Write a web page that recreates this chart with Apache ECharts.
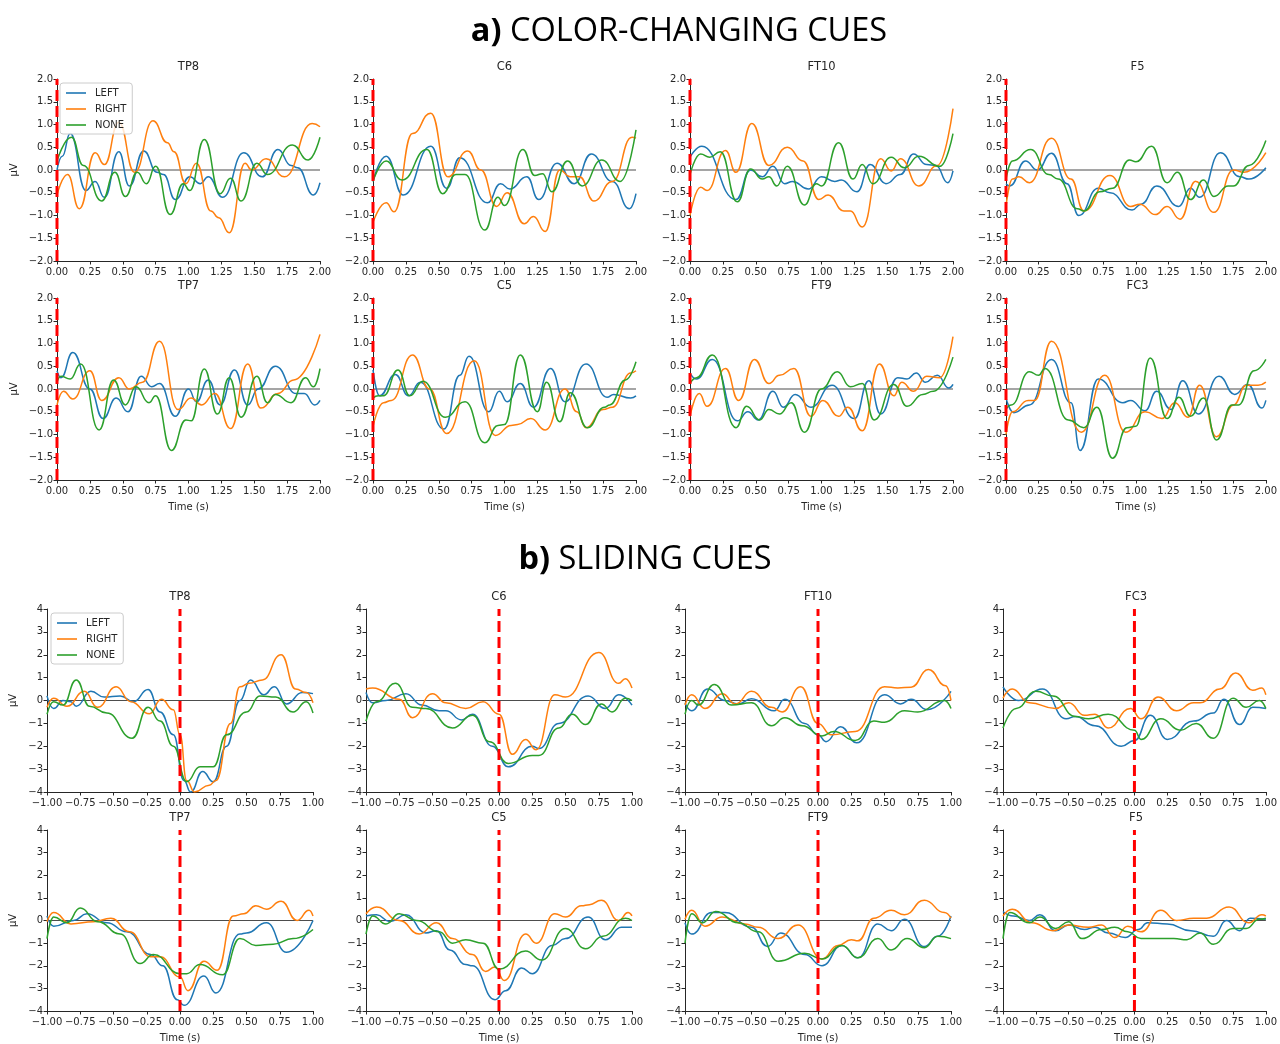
<!DOCTYPE html>
<html><head><meta charset="utf-8">
<script src="https://cdn.jsdelivr.net/npm/echarts@6/dist/echarts.min.js"></script>
<style>html,body{margin:0;padding:0;background:#fff}#c{width:1280px;height:1044px}</style>
</head><body><div id="c"></div>
<script>
// ---------- names ----------
const seriesNames = ['LEFT', 'RIGHT', 'NONE'];
const seriesColors = ['#1f77b4', '#ff7f0e', '#2ca02c'];
const channelsA = ['TP8', 'C6', 'FT10', 'F5', 'TP7', 'C5', 'FT9', 'FC3'];
const channelsB = ['TP8', 'C6', 'FT10', 'FC3', 'TP7', 'C5', 'FT9', 'F5'];
const sectionTitles = ['a)', 'COLOR-CHANGING CUES', 'b)', 'SLIDING CUES'];
const xRangeA = [0, 2, 0.25], yRangeA = [-2, 2, 0.5];
const xRangeB = [-1, 1, 0.25], yRangeB = [-4, 4, 1];

// ---------- a) colour-changing cues: [time s, µV] ----------
const aTP8_LEFT = [[0,0.0],[0.04,0.3],[0.10,0.8],[0.22,-0.45],[0.29,-0.25],[0.36,-0.6],[0.47,0.4],[0.55,-0.35],[0.66,0.42],[0.76,-0.05],[0.81,-0.1],[0.90,-0.65],[1.01,-0.15],[1.09,-0.3],[1.15,-0.15],[1.26,-0.6],[1.42,0.38],[1.56,-0.15],[1.68,0.45],[1.78,0.1],[1.83,0.05],[1.95,-0.55],[2.0,-0.28]];
const aTP8_RIGHT = [[0,-0.55],[0.08,-0.1],[0.17,-0.85],[0.29,0.38],[0.36,0.12],[0.47,1.05],[0.59,-0.05],[0.73,1.08],[0.84,0.6],[0.89,0.4],[0.98,-0.3],[1.06,0.15],[1.17,-0.9],[1.23,-1.05],[1.31,-1.38],[1.43,0.15],[1.48,0.0],[1.59,0.25],[1.73,-0.15],[1.94,1.02],[2.0,0.95]];
const aTP8_NONE = [[0,0.2],[0.11,0.72],[0.2,0.1],[0.34,-0.68],[0.44,-0.05],[0.52,-0.58],[0.61,-0.05],[0.68,-0.3],[0.75,0.08],[0.86,-0.98],[0.96,-0.3],[1.01,-0.45],[1.12,0.67],[1.24,-0.52],[1.32,-0.18],[1.40,-0.68],[1.52,0.15],[1.60,-0.1],[1.79,0.55],[1.91,0.22],[2.0,0.72]];

const aC6_LEFT = [[0,-0.25],[0.10,0.3],[0.23,-0.55],[0.44,0.52],[0.56,-0.4],[0.66,0.27],[0.87,-0.72],[0.97,-0.3],[1.04,-0.42],[1.17,-0.15],[1.26,-0.65],[1.40,0.15],[1.53,-0.3],[1.66,0.35],[1.82,-0.25],[1.95,-0.85],[2.0,-0.52]];
const aC6_RIGHT = [[0,-1.15],[0.10,-0.72],[0.16,-0.92],[0.30,0.8],[0.44,1.25],[0.57,-0.15],[0.72,0.42],[0.82,0.0],[0.94,-0.8],[1.02,-0.5],[1.15,-1.18],[1.22,-1.02],[1.31,-1.35],[1.42,0.0],[1.50,-0.15],[1.57,-0.15],[1.68,-0.68],[1.82,-0.25],[1.97,0.72],[2.0,0.7]];
const aC6_NONE = [[0,-0.25],[0.1,0.2],[0.22,-0.22],[0.41,0.45],[0.53,-0.52],[0.63,-0.1],[0.7,-0.1],[0.85,-1.32],[0.95,-0.6],[1.0,-0.78],[1.14,0.45],[1.23,-0.12],[1.29,-0.08],[1.36,-0.48],[1.48,0.2],[1.59,-0.35],[1.74,0.22],[1.88,-0.25],[2.0,0.88]];

const aFT10_LEFT = [[0,0.28],[0.09,0.52],[0.35,-0.65],[0.46,0.0],[0.55,-0.15],[0.63,0.08],[0.72,-0.3],[0.78,-0.25],[0.9,-0.42],[1.0,-0.15],[1.1,-0.25],[1.15,-0.22],[1.27,-0.48],[1.37,0.12],[1.49,-0.3],[1.6,-0.1],[1.7,0.35],[1.8,0.12],[1.87,0.1],[1.96,-0.28],[2.0,-0.02]];
const aFT10_RIGHT = [[0,-1.0],[0.08,-0.38],[0.13,-0.45],[0.27,0.43],[0.35,-0.05],[0.47,1.02],[0.6,0.1],[0.74,0.5],[0.86,0.2],[0.98,-0.65],[1.05,-0.55],[1.17,-0.9],[1.22,-0.9],[1.31,-1.25],[1.45,0.25],[1.53,-0.02],[1.6,0.25],[1.74,-0.35],[1.88,0.1],[2.0,1.35]];
const aFT10_NONE = [[0,-0.1],[0.08,0.35],[0.15,0.28],[0.23,0.4],[0.36,-0.7],[0.46,0.02],[0.55,-0.2],[0.6,-0.15],[0.66,-0.35],[0.74,0.08],[0.87,-0.77],[0.96,-0.3],[1.0,-0.35],[1.13,0.6],[1.24,-0.2],[1.31,0.12],[1.39,-0.3],[1.53,0.28],[1.63,0.05],[1.74,0.3],[1.9,0.08],[2.0,0.8]];

const aF5_LEFT = [[0,-0.3],[0.03,-0.35],[0.15,0.2],[0.24,0.0],[0.35,0.37],[0.47,-0.3],[0.56,-1.0],[0.71,-0.4],[0.8,-0.5],[0.97,-0.88],[1.04,-0.75],[1.16,-0.35],[1.33,-0.8],[1.42,-0.4],[1.49,-0.6],[1.65,0.38],[1.8,-0.15],[1.87,-0.2],[2.0,0.05]];
const aF5_RIGHT = [[0,-0.8],[0.05,-0.2],[0.1,-0.15],[0.18,-0.28],[0.35,0.7],[0.5,-0.2],[0.6,-0.9],[0.8,-0.12],[0.96,-0.8],[1.03,-0.75],[1.15,-0.98],[1.24,-0.8],[1.34,-1.08],[1.46,-0.25],[1.6,-0.93],[1.75,0.0],[1.83,-0.05],[2.0,0.38]];
const aF5_NONE = [[0,-0.2],[0.05,0.2],[0.19,0.45],[0.33,-0.1],[0.4,-0.2],[0.55,-0.85],[0.6,-0.9],[0.72,-0.48],[0.82,-0.4],[0.95,0.22],[1.0,0.18],[1.12,0.52],[1.24,-0.28],[1.32,-0.05],[1.42,-0.65],[1.52,-0.22],[1.6,-0.58],[1.71,-0.35],[1.75,-0.35],[1.87,0.1],[2.0,0.65]];

const aTP7_LEFT = [[0,0.4],[0.03,0.25],[0.12,0.8],[0.25,0.0],[0.35,-0.65],[0.45,-0.2],[0.54,-0.5],[0.64,0.28],[0.72,0.05],[0.78,0.12],[0.9,-0.6],[1.0,0.0],[1.06,-0.28],[1.15,0.2],[1.24,-0.35],[1.35,0.42],[1.45,-0.35],[1.53,0.0],[1.66,0.5],[1.82,-0.1],[1.88,-0.1],[1.96,-0.35],[2.0,-0.25]];
const aTP7_RIGHT = [[0,-0.35],[0.05,-0.05],[0.12,-0.22],[0.25,0.4],[0.34,-0.25],[0.47,0.25],[0.55,0.0],[0.65,0.15],[0.78,1.05],[0.92,-0.45],[1.02,-0.2],[1.1,-0.35],[1.2,-0.1],[1.32,-0.87],[1.45,0.55],[1.55,-0.42],[1.68,-0.1],[1.8,0.2],[2.0,1.2]];
const aTP7_NONE = [[0,0.15],[0.03,0.28],[0.1,0.22],[0.18,0.55],[0.32,-0.9],[0.43,0.2],[0.52,-0.35],[0.6,0.05],[0.7,-0.3],[0.75,-0.15],[0.87,-1.35],[0.98,-0.68],[1.02,-0.7],[1.12,0.44],[1.22,-0.55],[1.31,0.25],[1.4,-0.62],[1.52,0.28],[1.6,-0.3],[1.66,-0.12],[1.78,-0.3],[1.89,0.25],[1.95,0.05],[2.0,0.45]];

const aC5_LEFT = [[0,0.42],[0.05,-0.15],[0.17,0.32],[0.27,-0.15],[0.36,0.15],[0.54,-0.88],[0.66,0.3],[0.73,0.72],[0.88,-0.5],[0.96,-0.05],[1.02,-0.28],[1.12,0.12],[1.22,-0.4],[1.35,0.45],[1.46,-0.28],[1.62,0.55],[1.78,-0.18],[1.83,-0.12],[1.96,-0.2],[2.0,-0.15]];
const aC5_RIGHT = [[0,-0.82],[0.08,-0.3],[0.14,-0.25],[0.3,0.75],[0.43,0.0],[0.56,-0.98],[0.77,0.62],[0.93,-1.02],[1.05,-0.8],[1.1,-0.78],[1.2,-0.65],[1.31,-0.9],[1.46,0.0],[1.55,-0.5],[1.62,-0.85],[1.75,-0.45],[1.82,-0.4],[1.96,0.35],[2.0,0.4]];
const aC5_NONE = [[0,-0.2],[0.04,-0.15],[0.08,-0.15],[0.19,0.42],[0.28,-0.15],[0.38,0.17],[0.55,-0.62],[0.7,-0.28],[0.85,-1.18],[0.95,-0.8],[1.0,-0.78],[1.12,0.75],[1.25,-0.5],[1.32,0.15],[1.42,-0.72],[1.5,-0.08],[1.63,-0.85],[1.76,-0.4],[1.8,-0.35],[1.92,0.2],[2.0,0.6]];

const aFT9_LEFT = [[0,0.35],[0.05,0.22],[0.17,0.65],[0.36,-0.7],[0.44,-0.5],[0.52,-0.68],[0.63,-0.05],[0.71,-0.4],[0.8,-0.12],[0.92,-0.4],[1.08,0.08],[1.25,-0.65],[1.36,0.18],[1.45,-0.55],[1.58,0.25],[1.65,0.22],[1.72,0.35],[1.79,0.15],[1.88,0.3],[1.97,0.02],[2.0,0.1]];
const aFT9_RIGHT = [[0,-0.6],[0.07,-0.1],[0.13,-0.38],[0.27,0.45],[0.37,-0.25],[0.49,0.65],[0.6,0.12],[0.68,0.3],[0.79,0.45],[0.92,-0.6],[1.01,-0.25],[1.13,-0.6],[1.2,-0.4],[1.31,-0.92],[1.44,0.55],[1.55,-0.15],[1.61,0.15],[1.7,-0.05],[1.8,0.28],[1.9,0.25],[2.0,1.15]];
const aFT9_NONE = [[0,0.12],[0.05,0.25],[0.17,0.75],[0.35,-0.85],[0.43,-0.38],[0.53,-0.68],[0.6,-0.45],[0.68,-0.55],[0.77,-0.3],[0.87,-0.95],[1.0,0.0],[1.12,0.38],[1.22,0.05],[1.31,0.12],[1.4,-0.68],[1.55,0.1],[1.65,-0.38],[1.77,-0.12],[1.85,-0.05],[2.0,0.7]];

const aFC3_LEFT = [[0,-0.2],[0.06,-0.52],[0.18,-0.35],[0.35,0.65],[0.5,-0.3],[0.57,-1.35],[0.71,0.22],[0.9,-0.3],[0.96,-0.25],[1.07,-0.48],[1.16,-0.05],[1.27,-0.45],[1.36,0.18],[1.48,-0.55],[1.64,0.28],[1.76,-0.12],[1.86,0.1],[1.97,-0.42],[2.0,-0.25]];
const aFC3_RIGHT = [[0,-1.0],[0.05,-0.5],[0.17,-0.25],[0.22,-0.25],[0.35,1.05],[0.58,-0.95],[0.76,0.3],[0.92,-0.95],[1.07,-0.5],[1.2,-0.65],[1.3,-0.3],[1.4,-0.62],[1.49,0.08],[1.62,-1.05],[1.75,-0.35],[1.85,0.08],[1.94,0.08],[2.0,0.15]];
const aFC3_NONE = [[0,-0.45],[0.04,-0.35],[0.18,0.38],[0.25,0.3],[0.3,0.45],[0.48,-0.68],[0.6,-0.85],[0.7,-0.4],[0.82,-1.52],[0.93,-0.85],[1.0,-0.82],[1.11,0.68],[1.24,-0.65],[1.33,-0.18],[1.42,-0.6],[1.52,-0.2],[1.62,-1.12],[1.74,-0.35],[1.79,-0.35],[1.91,0.4],[2.0,0.65]];

// ---------- b) sliding cues: [time s, µV] ----------
const bTP8_LEFT = [[-1,0.2],[-0.95,-0.35],[-0.88,0.0],[-0.82,-0.05],[-0.78,-0.25],[-0.67,0.4],[-0.57,0.15],[-0.45,0.2],[-0.35,-0.05],[-0.24,0.48],[-0.15,-0.5],[-0.05,-1.5],[0.03,-3.5],[0.08,-4.0],[0.17,-3.1],[0.25,-3.55],[0.35,-2.0],[0.45,0.0],[0.53,0.9],[0.63,0.25],[0.71,0.6],[0.8,-0.15],[0.92,0.35],[1.0,0.3]];
const bTP8_RIGHT = [[-1,-0.3],[-0.95,0.1],[-0.85,-0.25],[-0.72,0.4],[-0.62,-0.3],[-0.48,0.6],[-0.37,-0.05],[-0.23,-0.58],[-0.14,0.05],[-0.05,-0.4],[0.0,-1.5],[0.05,-3.5],[0.11,-4.0],[0.22,-3.7],[0.27,-3.5],[0.38,-1.0],[0.45,0.6],[0.52,0.75],[0.62,0.9],[0.76,2.0],[0.87,0.5],[0.95,0.35],[1.0,-0.1]];
const bTP8_NONE = [[-1,-0.6],[-0.95,-0.05],[-0.88,-0.2],[-0.78,0.9],[-0.68,-0.25],[-0.55,-0.55],[-0.36,-1.65],[-0.24,-0.3],[-0.15,-0.9],[-0.05,-2.0],[0.05,-3.55],[0.15,-2.9],[0.25,-2.9],[0.35,-1.5],[0.5,-0.5],[0.6,0.2],[0.72,0.15],[0.85,-0.5],[0.95,-0.05],[1.0,-0.55]];

const bC6_LEFT = [[-1,0.35],[-0.95,-0.1],[-0.85,0.0],[-0.7,0.3],[-0.58,-0.2],[-0.45,-0.45],[-0.4,-0.45],[-0.28,-0.85],[-0.2,-0.6],[-0.05,-2.0],[0.07,-2.9],[0.25,-2.0],[0.3,-2.1],[0.45,-1.0],[0.67,0.2],[0.8,-0.35],[0.9,0.25],[1.0,-0.2]];
const bC6_RIGHT = [[-1,0.5],[-0.95,0.55],[-0.75,0.05],[-0.65,-0.75],[-0.5,0.3],[-0.4,-0.1],[-0.25,-0.35],[-0.12,-0.05],[0.0,-0.6],[0.1,-2.35],[0.2,-1.7],[0.28,-2.15],[0.42,0.25],[0.5,0.15],[0.75,2.1],[0.9,0.75],[0.95,0.95],[1.0,0.55]];
const bC6_NONE = [[-1,-0.9],[-0.92,-0.05],[-0.78,0.75],[-0.65,-0.3],[-0.55,-0.35],[-0.35,-1.2],[-0.2,-0.65],[-0.07,-1.8],[0.07,-2.75],[0.25,-2.4],[0.3,-2.4],[0.45,-1.2],[0.55,-0.6],[0.65,-1.05],[0.77,-0.15],[0.85,-0.5],[0.95,0.1],[1.0,0.0]];

const bFT10_LEFT = [[-1,-0.1],[-0.95,-0.45],[-0.83,0.5],[-0.7,0.0],[-0.6,-0.15],[-0.5,0.08],[-0.33,-0.45],[-0.25,0.05],[-0.1,-1.0],[0.0,-1.5],[0.06,-1.8],[0.17,-1.15],[0.29,-1.85],[0.5,0.25],[0.62,-0.15],[0.7,0.05],[0.82,-0.4],[1.0,0.4]];
const bFT10_RIGHT = [[-1,-0.2],[-0.95,0.25],[-0.85,-0.35],[-0.72,0.3],[-0.62,-0.15],[-0.5,0.4],[-0.35,-0.3],[-0.27,-0.5],[-0.13,0.6],[0.0,-1.0],[0.1,-1.5],[0.28,-1.35],[0.5,0.6],[0.6,0.55],[0.7,0.58],[0.83,1.35],[0.96,0.65],[1.0,0.0]];
const bFT10_NONE = [[-1,-0.6],[-0.95,0.0],[-0.9,-0.2],[-0.78,0.7],[-0.65,-0.2],[-0.5,-0.1],[-0.35,-1.1],[-0.25,-0.75],[-0.12,-1.1],[0.03,-1.55],[0.12,-1.35],[0.28,-1.75],[0.42,-0.9],[0.5,-0.95],[0.65,-0.45],[0.75,-0.5],[0.95,0.0],[1.0,-0.35]];

const bFC3_LEFT = [[-1,0.6],[-0.88,0.0],[-0.7,0.5],[-0.52,-0.8],[-0.45,-0.7],[-0.3,-1.1],[-0.1,-2.0],[0.0,-1.75],[0.12,-0.65],[0.25,-1.7],[0.45,-0.9],[0.6,-0.55],[0.68,0.05],[0.8,-1.05],[0.9,-0.3],[1.0,-0.35]];
const bFC3_RIGHT = [[-1,0.1],[-0.93,0.5],[-0.8,-0.1],[-0.6,-0.35],[-0.5,-0.1],[-0.38,-0.65],[-0.3,-0.6],[-0.2,-1.2],[-0.03,-0.35],[0.05,-0.8],[0.18,0.15],[0.32,-0.45],[0.45,-0.1],[0.5,-0.1],[0.65,0.5],[0.77,1.2],[0.9,0.45],[0.97,0.55],[1.0,0.25]];
const bFC3_NONE = [[-1,-1.2],[-0.9,-0.35],[-0.75,0.4],[-0.62,0.2],[-0.45,-0.7],[-0.35,-0.8],[-0.2,-0.6],[0.0,-1.3],[0.05,-1.7],[0.2,-0.8],[0.35,-1.3],[0.47,-1.0],[0.6,-1.65],[0.75,0.1],[0.85,-0.3],[0.95,0.0],[1.0,-0.35]];

const bTP7_LEFT = [[-1,0.2],[-0.95,-0.25],[-0.8,0.0],[-0.7,0.3],[-0.55,-0.1],[-0.4,-0.5],[-0.22,-1.5],[-0.13,-2.0],[-0.02,-3.5],[0.03,-3.75],[0.18,-2.45],[0.27,-3.2],[0.45,-0.6],[0.5,-0.55],[0.65,-0.1],[0.8,-1.4],[1.0,0.0]];
const bTP7_RIGHT = [[-1,-0.05],[-0.95,0.35],[-0.82,-0.15],[-0.65,-0.05],[-0.52,0.1],[-0.38,-0.5],[-0.22,-1.6],[-0.15,-1.6],[0.0,-2.5],[0.06,-3.1],[0.18,-1.8],[0.28,-2.2],[0.4,0.2],[0.48,0.3],[0.57,0.65],[0.65,0.5],[0.76,0.85],[0.88,0.0],[0.97,0.45],[1.0,0.2]];
const bTP7_NONE = [[-1,-0.8],[-0.95,0.15],[-0.85,-0.1],[-0.75,0.55],[-0.62,-0.05],[-0.45,-0.6],[-0.3,-1.9],[-0.2,-1.5],[0.0,-2.35],[0.05,-2.35],[0.15,-1.95],[0.32,-2.4],[0.45,-0.8],[0.57,-1.1],[0.7,-1.05],[0.85,-0.8],[1.0,-0.4]];

const bC5_LEFT = [[-1,0.2],[-0.92,0.25],[-0.82,-0.05],[-0.7,0.25],[-0.55,-0.55],[-0.47,-0.45],[-0.37,-1.3],[-0.25,-1.95],[-0.2,-2.0],[-0.03,-3.5],[0.05,-3.1],[0.17,-2.1],[0.25,-2.35],[0.4,-1.1],[0.5,-0.8],[0.67,0.15],[0.8,-0.85],[0.92,-0.3],[1.0,-0.3]];
const bC5_RIGHT = [[-1,0.3],[-0.92,0.6],[-0.75,0.0],[-0.6,-0.6],[-0.47,-0.1],[-0.35,-0.8],[-0.2,-1.5],[-0.1,-2.25],[-0.03,-2.05],[0.04,-2.65],[0.2,-0.6],[0.28,-1.0],[0.42,0.3],[0.5,0.15],[0.62,0.65],[0.68,0.7],[0.77,0.9],[0.9,0.0],[0.97,0.35],[1.0,0.2]];
const bC5_NONE = [[-1,-0.6],[-0.95,0.2],[-0.85,-0.15],[-0.75,0.3],[-0.62,0.0],[-0.45,-0.5],[-0.35,-1.0],[-0.25,-0.85],[-0.12,-1.0],[0.0,-2.15],[0.2,-1.35],[0.32,-1.75],[0.5,-0.35],[0.65,-1.25],[0.78,-0.7],[0.95,0.1],[1.0,0.0]];

const bFT9_LEFT = [[-1,-0.1],[-0.95,-0.6],[-0.8,0.35],[-0.7,0.35],[-0.5,-0.3],[-0.38,-1.15],[-0.28,-0.55],[-0.1,-1.5],[0.03,-2.0],[0.18,-1.1],[0.3,-1.65],[0.45,-0.15],[0.55,-0.45],[0.65,0.05],[0.8,-1.15],[0.9,-0.7],[1.0,0.2]];
const bFT9_RIGHT = [[-1,0.05],[-0.95,0.45],[-0.85,-0.25],[-0.72,0.15],[-0.55,-0.15],[-0.45,-0.3],[-0.3,-0.8],[-0.15,-0.2],[0.03,-1.7],[0.15,-1.1],[0.25,-0.85],[0.3,-0.9],[0.42,0.1],[0.55,0.45],[0.65,0.25],[0.8,0.9],[0.95,0.35],[1.0,0.1]];
const bFT9_NONE = [[-1,-1.0],[-0.95,0.3],[-0.87,-0.1],[-0.77,0.4],[-0.6,-0.1],[-0.45,-0.5],[-0.3,-1.8],[-0.1,-1.45],[0.03,-1.7],[0.18,-1.1],[0.3,-1.65],[0.45,-0.8],[0.55,-1.3],[0.67,-0.8],[0.8,-1.2],[0.9,-0.7],[1.0,-0.8]];

const bF5_LEFT = [[-1,0.4],[-0.92,0.2],[-0.8,0.0],[-0.72,0.25],[-0.6,-0.45],[-0.5,-0.2],[-0.38,-0.4],[-0.3,-0.3],[-0.2,-0.55],[-0.07,-0.75],[0.03,-0.4],[0.1,-0.1],[0.25,-0.15],[0.43,-0.45],[0.6,-0.7],[0.7,0.0],[0.8,-0.45],[0.88,0.1],[1.0,0.05]];
const bF5_RIGHT = [[-1,0.2],[-0.93,0.5],[-0.78,-0.1],[-0.62,-0.45],[-0.5,-0.2],[-0.35,-0.3],[-0.25,-0.2],[-0.15,-0.75],[-0.05,-0.25],[0.05,-0.5],[0.2,0.45],[0.32,0.0],[0.45,0.1],[0.55,0.1],[0.72,0.6],[0.87,-0.1],[0.97,0.25],[1.0,0.2]];
const bF5_NONE = [[-1,-0.8],[-0.95,0.35],[-0.8,-0.1],[-0.72,0.15],[-0.6,-0.35],[-0.5,-0.05],[-0.4,-0.8],[-0.25,-0.4],[-0.15,-0.3],[-0.05,-0.5],[0.05,-0.8],[0.3,-0.8],[0.4,-0.85],[0.5,-0.55],[0.6,-1.05],[0.75,-0.35],[0.85,-0.35],[0.95,0.05],[1.0,0.1]];

const panelsA = [
  [aTP8_LEFT, aTP8_RIGHT, aTP8_NONE], [aC6_LEFT, aC6_RIGHT, aC6_NONE],
  [aFT10_LEFT, aFT10_RIGHT, aFT10_NONE], [aF5_LEFT, aF5_RIGHT, aF5_NONE],
  [aTP7_LEFT, aTP7_RIGHT, aTP7_NONE], [aC5_LEFT, aC5_RIGHT, aC5_NONE],
  [aFT9_LEFT, aFT9_RIGHT, aFT9_NONE], [aFC3_LEFT, aFC3_RIGHT, aFC3_NONE]
];
const panelsB = [
  [bTP8_LEFT, bTP8_RIGHT, bTP8_NONE], [bC6_LEFT, bC6_RIGHT, bC6_NONE],
  [bFT10_LEFT, bFT10_RIGHT, bFT10_NONE], [bFC3_LEFT, bFC3_RIGHT, bFC3_NONE],
  [bTP7_LEFT, bTP7_RIGHT, bTP7_NONE], [bC5_LEFT, bC5_RIGHT, bC5_NONE],
  [bFT9_LEFT, bFT9_RIGHT, bFT9_NONE], [bF5_LEFT, bF5_RIGHT, bF5_NONE]
];

// ---------- layout ----------
const FONT = "'DejaVu Sans', sans-serif";
const TXT = '#262626';
const TICK_FS = 10;
const layoutA = { lefts: [57, 373, 690, 1006], tops: [79, 298], w: 263, h: 182, nameGap: 38 };
const layoutB = { lefts: [47, 366, 685, 1003], tops: [609, 830], w: 266, h: 183, nameGap: 29 };

const grids = [], xAxes = [], yAxes = [], series = [], graphics = [];
const fmtMinus = (v, d) => { const s = Math.abs(v).toFixed(d); return (v < -1e-9 ? '\u2212' : '') + s; };

function addPanel(L, xr, yr, yDec, idx, ch, data) {
  const col = idx % 4, row = Math.floor(idx / 4);
  const left = L.lefts[col], top = L.tops[row];
  const gi = grids.length;
  grids.push({ left: left, top: top, width: L.w, height: L.h });
  xAxes.push({
    type: 'value', gridIndex: gi, min: xr[0], max: xr[1], interval: xr[2],
    axisLine: { onZero: false, lineStyle: { color: TXT, width: 1 } },
    axisTick: { show: true, length: 3.5, lineStyle: { color: TXT } },
    axisLabel: { fontFamily: FONT, fontSize: TICK_FS, color: TXT, margin: 6.5, formatter: v => fmtMinus(v, 2) },
    splitLine: { show: false },
    name: row === 1 ? 'Time (s)' : '', nameLocation: 'middle', nameGap: 22,
    nameTextStyle: { fontFamily: FONT, fontSize: TICK_FS, color: TXT }
  });
  yAxes.push({
    type: 'value', gridIndex: gi, min: yr[0], max: yr[1], interval: yr[2],
    axisLine: { show: true, onZero: false, lineStyle: { color: TXT, width: 1 } },
    axisTick: { show: true, length: 3.5, lineStyle: { color: TXT } },
    axisLabel: { fontFamily: FONT, fontSize: TICK_FS, color: TXT, margin: 4, formatter: v => fmtMinus(v, yDec) },
    splitLine: { show: false },
    name: col === 0 ? '\u03bcV' : '', nameLocation: 'middle', nameGap: L.nameGap,
    nameTextStyle: { fontFamily: FONT, fontSize: TICK_FS, color: TXT }
  });
  // zero line
  series.push({ type: 'line', name: '_zero', xAxisIndex: gi, yAxisIndex: gi, data: [[xr[0], 0], [xr[1], 0]],
    symbol: 'none', silent: true, z: 2, lineStyle: { color: '#4d4d4d', width: 1.2 } });
  data.forEach((d, k) => {
    series.push({ type: 'line', name: seriesNames[k], xAxisIndex: gi, yAxisIndex: gi, data: d,
      symbol: 'none', showSymbol: false, smooth: 0.5, smoothMonotone: 'x', z: 3,
      color: seriesColors[k], lineStyle: { color: seriesColors[k], width: 1.5 } });
  });
  // red stimulus line at t = 0
  series.push({ type: 'line', name: '_onset', xAxisIndex: gi, yAxisIndex: gi, data: [[0, yr[0]], [0, yr[1]]],
    symbol: 'none', silent: true, clip: false, z: 5, lineStyle: { color: '#ff0000', width: 3, type: [11, 5] } });
  graphics.push({ type: 'text', x: left + L.w / 2, y: top - 11.5, silent: true,
    style: { text: ch, fontFamily: FONT, fontSize: 11.5, fill: TXT, align: 'center', verticalAlign: 'middle' } });
}

panelsA.forEach((d, i) => addPanel(layoutA, xRangeA, yRangeA, 1, i, channelsA[i], d));
panelsB.forEach((d, i) => addPanel(layoutB, xRangeB, yRangeB, 0, i, channelsB[i], d));

const titleRich = {
  b: { fontFamily: "'Open Sans', sans-serif", fontWeight: 'bold', fontSize: 32.5, fill: '#000', color: '#000' },
  n: { fontFamily: "'Open Sans', sans-serif", fontSize: 32.5, fill: '#000', color: '#000' }
};
graphics.push({ type: 'text', x: 679, y: 32, silent: true,
  style: { text: '{b|' + sectionTitles[0] + '}{n|\u00a0' + sectionTitles[1] + '}', rich: titleRich, align: 'center', verticalAlign: 'middle' } });
graphics.push({ type: 'text', x: 645, y: 560, silent: true,
  style: { text: '{b|' + sectionTitles[2] + '}{n|\u00a0' + sectionTitles[3] + '}', rich: titleRich, align: 'center', verticalAlign: 'middle' } });

const legendBase = {
  data: seriesNames, orient: 'vertical', icon: 'rect', itemWidth: 20, itemHeight: 1.6, itemGap: 6,
  padding: [5, 6, 4, 6], borderColor: '#cccccc', borderWidth: 1, borderRadius: 3,
  backgroundColor: 'rgba(255,255,255,0.8)',
  textStyle: { fontFamily: FONT, fontSize: 10, color: TXT, lineHeight: 10, padding: [0, 0, 0, 4] }
};

const option = {
  animation: false,
  backgroundColor: '#ffffff',
  grid: grids, xAxis: xAxes, yAxis: yAxes, series: series,
  legend: [
    Object.assign({}, legendBase, { left: 60, top: 83 }),
    Object.assign({}, legendBase, { left: 51, top: 613 })
  ],
  graphic: graphics
};

const chart = echarts.init(document.getElementById('c'), null, { renderer: 'canvas' });
chart.setOption(option);
</script>
</body></html>
